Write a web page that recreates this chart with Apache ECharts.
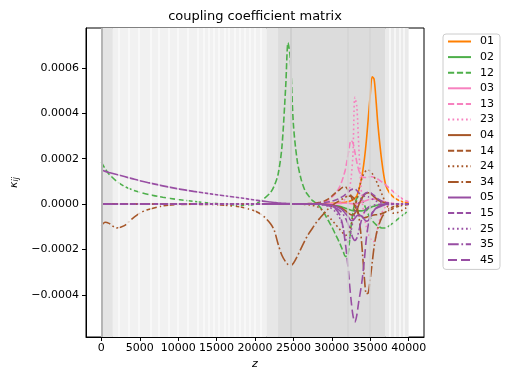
<!DOCTYPE html>
<html><head><meta charset="utf-8">
<script src="https://cdn.jsdelivr.net/npm/echarts@6/dist/echarts.min.js"></script>
<style>html,body{margin:0;padding:0;background:#fff}#c{width:512px;height:384px}</style>
</head><body><div id="c"></div>
<script>
// z grid (common abscissa for all curves)
const Z = [0,500,1000,2000,3000,4000,5000,6000,8000,10000,12000,14000,16000,18000,19000,20000,
  21000,22000,22500,23000,23500,24000,24300,24600,25000,25500,26000,26500,27000,27500,28000,28500,29000,29500,30000,30500,
  31000,31250,31500,31750,32000,32250,32500,32750,33000,33250,33500,33750,34000,34250,34500,34750,35000,35250,35500,35750,36000,
  36500,37000,37500,38000,38500,39000,39500,40000];
const SCALE = 1e-4; // values below are in units of 1e-4
const Z16 = [0,0,0,0,0,0,0,0,0,0,0,0,0,0,0,0];
const k01 = [...Z16,
  0,0,0,0,0,0,0,0,0,0,0,0,0,0,0,0.01,0.01,0.02,0.03,0.04,
  0.05,0.06,0.07,0.08,0.1,0.12,0.15,0.19,0.26,0.36,0.6,0.95,1.4,2.0,2.8,3.8,4.8,5.6,5.5,4.6,3.5,
  1.9,0.85,0.5,0.32,0.2,0.13,0.08,0.05];
const k02 = [...Z16,
  0,0,0,0,0,0,0,0,0,0,0,0,0,0,0,0,-0.01,-0.02,-0.04,-0.07,
  -0.1,-0.12,-0.15,-0.18,-0.21,-0.24,-0.27,-0.29,-0.3,-0.3,-0.3,-0.3,-0.29,-0.27,-0.24,-0.2,-0.16,-0.12,-0.09,-0.06,-0.04,
  -0.02,-0.01,0,0,0,0,0,0];
const k12 = [1.85,1.55,1.32,1.0,0.78,0.63,0.52,0.43,0.3,0.2,0.12,0.05,0.0,-0.05,-0.05,0.0,
  0.2,0.5,0.8,1.3,2.5,5.2,7.1,6.4,3.5,1.9,1.1,0.6,0.35,0.15,0.03,-0.15,-0.4,-0.7,-1.0,-1.35,
  -1.7,-1.9,-2.1,-2.3,-2.3,-1.8,-1.0,-0.35,0.05,0.25,0.35,0.3,0.15,-0.05,-0.25,-0.45,-0.6,-0.72,-0.82,-0.9,-0.97,
  -1.05,-1.05,-0.95,-0.82,-0.68,-0.55,-0.42,-0.3];
const k03 = [...Z16,
  0,0,0,0,0,0,0,0,0,0,0,0,0,0,0,0,0,0.01,0.01,0.02,
  0.03,0.03,0.04,0.04,0.04,0.03,0.02,0.01,0.01,0.02,0.04,0.07,0.1,0.13,0.16,0.19,0.21,0.22,0.22,0.21,0.19,
  0.14,0.09,0.05,0.03,0.01,0,0,0];
const k13 = [...Z16,
  0,0,0,0,0,0,0,0,0,0,0,0,0.005,0.01,0.03,0.06,0.1,0.17,0.3,0.48,
  0.75,0.95,1.2,1.5,1.95,2.45,2.8,2.7,2.3,1.85,1.5,1.3,1.2,1.17,1.17,1.18,1.2,1.2,1.18,1.15,1.1,
  0.98,0.85,0.7,0.55,0.4,0.27,0.17,0.1];
const k23 = [...Z16,
  0,0,0,0,0,0,0,0,0,0,0,0,0,0,0,0,0.01,0.01,0.02,0.04,
  0.08,0.11,0.15,0.22,0.35,0.6,1.1,2.2,4.7,4.3,2.6,1.0,0.0,-0.6,-1.0,-1.3,-1.5,-1.65,-1.65,-1.4,-1.0,
  -0.4,-0.12,-0.03,0,0,0,0,0];
const k04 = [...Z16,
  0,0,0,0,0,0,0,0,0,0,0,0,0,0,0,0,-0.01,-0.02,-0.04,-0.08,
  -0.13,-0.17,-0.22,-0.28,-0.35,-0.42,-0.47,-0.48,-0.4,-0.25,-0.05,0.15,0.3,0.42,0.48,0.5,0.47,0.4,0.32,0.25,0.18,
  0.1,0.05,0.02,0.01,0,0,0,0];
const k14 = [...Z16,
  0,0,0,0,0,0,0,0,0,0,0,0.01,0.02,0.03,0.05,0.08,0.13,0.22,0.35,0.5,
  0.63,0.7,0.75,0.75,0.68,0.55,0.35,0.12,-0.1,-0.3,-0.45,-0.55,-0.6,-0.6,-0.58,-0.55,-0.52,-0.5,-0.48,-0.47,-0.46,
  -0.42,-0.35,-0.27,-0.19,-0.12,-0.07,-0.04,-0.02];
const k24 = [...Z16,
  0,0,0,0,0,0,0,0,0,0,-0.01,-0.02,-0.03,-0.06,-0.1,-0.2,-0.35,-0.52,-0.7,-0.9,
  -1.1,-1.2,-1.3,-1.38,-1.35,-1.2,-0.95,-0.6,-0.2,0.2,0.6,0.95,1.2,1.38,1.48,1.5,1.45,1.35,1.2,1.05,0.85,
  0.45,0.05,-0.25,-0.4,-0.38,-0.3,-0.2,-0.1];
const k34 = [-0.95,-0.8,-0.85,-1.05,-0.95,-0.65,-0.4,-0.25,-0.08,-0.02,-0.01,-0.02,-0.05,-0.12,-0.2,-0.3,
  -0.5,-0.85,-1.15,-1.75,-2.25,-2.55,-2.66,-2.7,-2.6,-2.3,-1.95,-1.6,-1.3,-1.05,-0.8,-0.6,-0.4,-0.22,-0.08,0.05,
  0.15,0.2,0.25,0.3,0.33,0.35,0.35,0.3,0.2,-0.05,-0.5,-1.2,-2.2,-3.3,-3.95,-3.9,-3.3,-2.6,-1.9,-1.4,-1.05,
  -0.6,-0.35,-0.2,-0.12,-0.07,-0.04,-0.02,-0.01];
const k05 = [1.5,1.44,1.39,1.3,1.21,1.12,1.03,0.95,0.8,0.67,0.56,0.46,0.37,0.28,0.23,0.18,
  0.13,0.09,0.07,0.05,0.04,0.03,0.02,0.02,0.01,0.01,0.01,0,0,0,0,0,-0.01,-0.03,-0.05,-0.1,
  -0.17,-0.22,-0.3,-0.4,-0.5,-0.62,-0.72,-0.72,-0.62,-0.52,-0.48,-0.5,-0.58,-0.68,-0.75,-0.72,-0.58,-0.42,-0.28,-0.18,-0.12,
  -0.05,-0.02,0,0,0,0,0,0];
const k15 = [...Z16,
  0,0,0,0,0,0,0,0,0,0,0,0,0,0.01,0.02,0.04,0.06,0.09,0.13,0.18,
  0.25,0.3,0.35,0.42,0.5,0.57,0.63,0.66,0.66,0.6,0.5,0.42,0.4,0.45,0.5,0.52,0.5,0.45,0.38,0.3,0.23,
  0.13,0.07,0.04,0.02,0.01,0,0,0];
const k25 = [...Z16,
  0,0,0,0,0,0,0,0,0,0,0,0,0,0,0,-0.02,-0.05,-0.1,-0.2,-0.35,
  -0.6,-0.8,-1.1,-1.45,-1.7,-1.6,-1.2,-0.75,-0.4,-0.15,0.05,0.2,0.3,0.35,0.35,0.32,0.28,0.23,0.18,0.14,0.1,
  0.05,0.02,0.01,0,0,0,0,0];
const k35 = [...Z16,
  0,0,0,0,0,0,0,0,0,0,0,0,0,0,0,-0.01,-0.03,-0.06,-0.1,-0.17,
  -0.28,-0.36,-0.46,-0.6,-0.78,-1.0,-1.25,-1.5,-1.6,-1.5,-1.2,-0.85,-0.55,-0.35,-0.22,-0.14,-0.09,-0.06,-0.04,-0.03,-0.02,
  -0.01,0,0,0,0,0,0,0];
const k45 = [...Z16,
  0,0,0,0,0,0,0,0,0,0,0,0,0,0,0,-0.01,-0.03,-0.06,-0.12,-0.22,
  -0.45,-0.7,-1.1,-1.7,-2.4,-3.3,-4.2,-4.9,-5.2,-4.9,-4.3,-3.8,-3.2,-2.4,-1.5,-0.9,-0.55,-0.38,-0.27,-0.2,-0.15,
  -0.08,-0.04,-0.02,-0.01,0,0,0,0];

const names = ['01','02','12','03','13','23','04','14','24','34','05','15','25','35','45'];
const values = [k01,k02,k12,k03,k13,k23,k04,k14,k24,k34,k05,k15,k25,k35,k45];
const xTicks = [0,5000,10000,15000,20000,25000,30000,35000,40000];
const yTicks = [-0.0004,-0.0002,0,0.0002,0.0004,0.0006];

// styles
const C = {o:'#ff7f00', g:'#4daf4a', p:'#f781bf', b:'#a65628', v:'#984ea3'};
const DASH = 'dash', DOT = 'dot', DD = 'dd', LD = 'ld', S = 'solid';
const dashMap = {solid:'solid', dash:[6.2,2.7], dot:[1.7,2.8], dd:[10.7,2.7,1.7,2.7], ld:[9,4]};
const styleOf = [[C.o,S],[C.g,S],[C.g,DASH],[C.p,S],[C.p,DASH],[C.p,DOT],[C.b,S],[C.b,DASH],[C.b,DOT],[C.b,DD],
  [C.v,S],[C.v,DASH],[C.v,DOT],[C.v,DD],[C.v,LD]];

// background shading of z sections (decoration)
const bgBands = [[0,1500,'#e4e4e4'],[1500,21500,'#f1f1f1'],[21500,23000,'#e7e7e7'],[23000,37000,'#dcdcdc'],[37000,40000,'#eaeaea']];
const lightGaps = [2300,3500,4900,6400,7500,8800,10000,11300,12600,13300,14000,14600,15300,16000,16600,17300,18000,18700,19300,20000,20700,37600,38200,38800,39400];
const darkLines = [[0,'#b5b5b5',2],[24700,'#cfcfcf',2],[32100,'#d4d4d4',1.5],[35000,'#d4d4d4',1.5]];

values.forEach((v,i)=>{ if(v.length!==Z.length) console.error('len mismatch', names[i], v.length); });

const FONT = 'DejaVu Sans';
const series = [{
  type:'line', name:'bg', data:[], silent:true, z:0,
  markArea:{silent:true, data: bgBands.map(b=>[{xAxis:b[0], itemStyle:{color:b[2]}},{xAxis:b[1]}])},
  markLine:{silent:true, symbol:'none', label:{show:false},
    data: lightGaps.map(z=>({xAxis:z, lineStyle:{color:'#fafafa', width:1.5, type:'solid'}}))
      .concat(darkLines.map(d=>({xAxis:d[0], lineStyle:{color:d[1], width:d[2], type:'solid'}})))}
}];
names.forEach((n,i)=>{
  series.push({
    type:'line', name:n, z:2, showSymbol:false, symbol:'none', smooth:0.3,
    data: Z.map((z,j)=>[z, values[i][j]*SCALE]),
    lineStyle:{color:styleOf[i][0], width:1.6, type:dashMap[styleOf[i][1]]},
    itemStyle:{color:styleOf[i][0]}
  });
});

const fmtY = v => (v<0?'\u2212':'') + Math.abs(v).toFixed(4);
const chart = echarts.init(document.getElementById('c'), null, {renderer:'canvas'});
chart.setOption({
  animation:false,
  title:{text:'coupling coefficient matrix', left:255, top:10, padding:0, textAlign:'center',
    textStyle:{fontFamily:FONT, fontSize:13, fontWeight:'normal', color:'#000'}},
  grid:{left:86, right:88, top:28, bottom:47, show:true, borderColor:'#000', borderWidth:1, backgroundColor:'transparent'},
  xAxis:{type:'value', min:-2000, max:42000, name:'z', nameLocation:'middle', nameGap:20,
    nameTextStyle:{fontFamily:FONT, fontSize:11, fontStyle:'italic', color:'#000'},
    axisLine:{onZero:false, lineStyle:{color:'#000'}}, splitLine:{show:false},
    axisTick:{length:4, lineStyle:{color:'#000'}, customValues:xTicks},
    axisLabel:{fontFamily:FONT, fontSize:11, color:'#000', margin:6, customValues:xTicks, formatter:v=>String(v)}},
  yAxis:{type:'value', min:-0.000585, max:0.000775, name:'{k|κ}{s|ij}', nameLocation:'middle', nameGap:41, nameRotate:90,
    nameTextStyle:{rich:{k:{fontFamily:FONT, fontSize:11, fontStyle:'italic', color:'#000'},
                         s:{fontFamily:FONT, fontSize:8, fontStyle:'italic', color:'#000', padding:[5,0,0,0]}}},
    axisLine:{show:true, onZero:false, lineStyle:{color:'#000'}}, splitLine:{show:false},
    axisTick:{show:true, length:4, lineStyle:{color:'#000'}, customValues:yTicks},
    axisLabel:{fontFamily:FONT, fontSize:11, color:'#000', margin:7, customValues:yTicks, formatter:fmtY}},
  legend:{data:names, orient:'vertical', left:443, top:34, itemWidth:23, itemHeight:11, itemGap:4.6,
    padding:[2,6,4,4], borderColor:'#cccccc', borderWidth:1, borderRadius:3, backgroundColor:'rgba(255,255,255,0.8)',
    itemStyle:{opacity:0},
    textStyle:{fontFamily:FONT, fontSize:11, color:'#000', padding:[0,0,0,4]}},
  series
});
</script></body></html>
